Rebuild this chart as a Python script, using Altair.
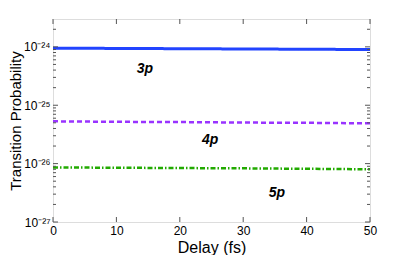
import altair as alt
import pandas as pd

delay = [0, 10, 20, 30, 40, 50]
p3 = [9.5e-25, 9.4e-25, 9.3e-25, 9.2e-25, 9.1e-25, 9.0e-25]
p4 = [5.3e-26, 5.2e-26, 5.15e-26, 5.05e-26, 5.0e-26, 4.9e-26]
p5 = [8.6e-27, 8.5e-27, 8.4e-27, 8.3e-27, 8.15e-27, 8.0e-27]

labels = ["3p", "4p", "5p"]
label_x = [14.5, 24.8, 35.3]
label_y = [4.2e-25, 2.5e-26, 3.2e-27]

x_ticks = [0, 10, 20, 30, 40, 50]
y_major = [1e-27, 1e-26, 1e-25, 1e-24]
y_minor = [k * 10.0 ** n for n in (-27, -26, -25) for k in range(2, 10)] + [2e-24]

W, H = 317, 203
rows = []
for name, vals in (("3p", p3), ("4p", p4), ("5p", p5)):
    for d, v in zip(delay, vals):
        rows.append({"delay": d, "p": v, "series": name})
df = pd.DataFrame(rows)

xs = alt.Scale(domain=[0, 50], nice=False)
ys = alt.Scale(type="log", domain=[1e-27, 3e-24], nice=False)

label_expr = ("datum.value < 5e-27 ? '10⁻²⁷' : datum.value < 5e-26 ? '10⁻²⁶' : "
              "datum.value < 5e-25 ? '10⁻²⁵' : '10⁻²⁴'")

base_x = alt.X("delay:Q", scale=xs, title="Delay (fs)",
               axis=alt.Axis(values=x_ticks, tickSize=0, labelPadding=3, grid=False,
                             domain=False, labelFontSize=12, titleFontSize=16,
                             titleFontWeight="normal", titleY=17, labelFlush=False))
base_y = alt.Y("p:Q", scale=ys, title="Transition Probability",
               axis=alt.Axis(values=y_major, tickSize=0, labelPadding=3, grid=False,
                             domain=False, labelExpr=label_expr, labelFontSize=12,
                             titleFontSize=15, titleFontWeight="normal",
                             titleX=-30, titleY=H / 2))

def line(name, color, dash, width):
    return alt.Chart(df[df.series == name]).mark_line(
        color=color, strokeDash=dash, strokeWidth=width
    ).encode(x=base_x, y=base_y)

lines = [
    line("3p", "#2244ff", [1, 0], 3),
    line("4p", "#9933ff", [5, 3], 2.5),
    line("5p", "#22aa00", [5, 2, 1.5, 2], 2.5),
]

tdf = pd.DataFrame({"delay": label_x, "p": label_y, "t": labels})
text = alt.Chart(tdf).mark_text(fontSize=14, fontWeight="bold", fontStyle="italic",
                                color="black").encode(
    x=alt.X("delay:Q", scale=xs), y=alt.Y("p:Q", scale=ys), text="t:N")

ymaj = pd.DataFrame({"p": y_major})
ymin = pd.DataFrame({"p": y_minor})
xt = pd.DataFrame({"delay": x_ticks})
tick_color = "#555555"

def yticks(d, length):
    l = alt.Chart(d).mark_rule(color=tick_color, strokeWidth=1).encode(
        y=alt.Y("p:Q", scale=ys), x=alt.value(0), x2=alt.value(length))
    r = alt.Chart(d).mark_rule(color=tick_color, strokeWidth=1).encode(
        y=alt.Y("p:Q", scale=ys), x=alt.value(W - length), x2=alt.value(W))
    return [l, r]

xb = alt.Chart(xt).mark_rule(color=tick_color, strokeWidth=1).encode(
    x=alt.X("delay:Q", scale=xs), y=alt.value(H), y2=alt.value(H - 5))
xtp = alt.Chart(xt).mark_rule(color=tick_color, strokeWidth=1).encode(
    x=alt.X("delay:Q", scale=xs), y=alt.value(0), y2=alt.value(5))

chart = alt.layer(*lines, text, *yticks(ymaj, 5), *yticks(ymin, 3), xb, xtp).properties(
    width=W, height=H,
    autosize=alt.AutoSizeParams(type="none"),
    padding={"left": 45, "top": 11, "right": 28, "bottom": 40},
).configure_view(stroke="#444444", strokeWidth=1.2).configure(
    font="Liberation Sans"
).configure_axis(labelColor="black", titleColor="black")

chart.save("out.html", embed_options={"renderer": "svg", "actions": False})
